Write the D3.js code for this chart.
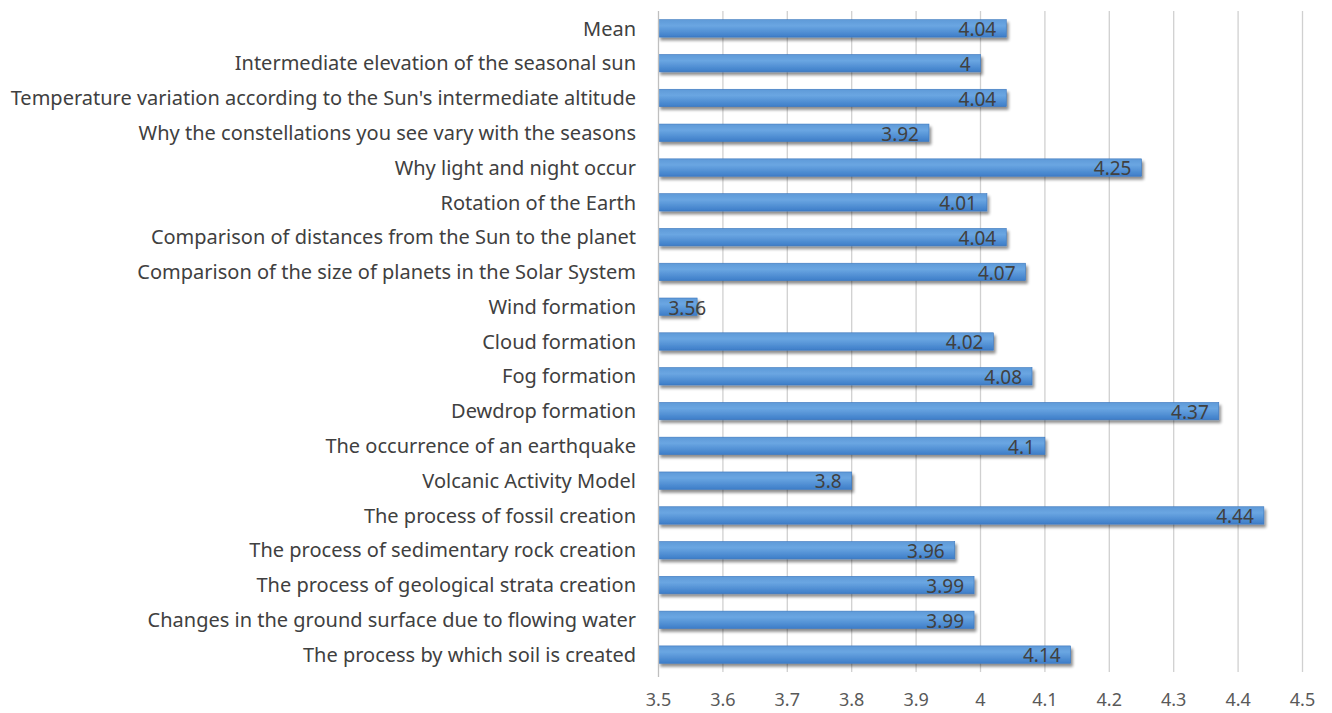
<!DOCTYPE html>
<html>
<head>
<meta charset="utf-8">
<script src="https://cdn.jsdelivr.net/npm/d3@7"></script>
<style>
  body { margin: 0; background: #fff; }
  text { font-family: "Noto Sans", "Open Sans", sans-serif; }
</style>
</head>
<body>
<svg width="1332" height="713"></svg>
<script>
// categories, top to bottom
const categories = [
    "Mean",
    "Intermediate elevation of the seasonal sun",
    "Temperature variation according to the Sun's intermediate altitude",
    "Why the constellations you see vary with the seasons",
    "Why light and night occur",
    "Rotation of the Earth",
    "Comparison of distances from the Sun to the planet",
    "Comparison of the size of planets in the Solar System",
    "Wind formation",
    "Cloud formation",
    "Fog formation ",
    "Dewdrop formation",
    "The occurrence of an earthquake",
    "Volcanic Activity Model",
    "The process of fossil creation",
    "The process of sedimentary rock creation",
    "The process of geological strata creation",
    "Changes in the ground surface due to flowing water",
    "The process by which soil is created"
]
const values = [4.04, 4, 4.04, 3.92, 4.25, 4.01, 4.04, 4.07, 3.56, 4.02, 4.08, 4.37, 4.1, 3.8, 4.44, 3.96, 3.99, 3.99, 4.14]
const ticks = [3.5, 3.6, 3.7, 3.8, 3.9, 4.0, 4.1, 4.2, 4.3, 4.4, 4.5]

const svg = d3.select("svg")

const plotLeft = 658.5, plotRight = 1302.5, plotTop = 11, plotBottom = 672

const x = d3.scaleLinear().domain([3.5, 4.5]).range([plotLeft, plotRight])
const y = d3.scaleBand().domain(categories).range([plotTop, plotBottom]).paddingInner(0.5).paddingOuter(0.25)

// bar gradient + shadow
const defs = svg.append("defs")
const grad = defs.append("linearGradient")
    .attr("id", "barGrad")
    .attr("x1", 0).attr("y1", 0).attr("x2", 0).attr("y2", 1)
grad.append("stop").attr("offset", "0%").attr("stop-color", "#5f9ad8")
grad.append("stop").attr("offset", "35%").attr("stop-color", "#6aa6e2")
grad.append("stop").attr("offset", "100%").attr("stop-color", "#3d7dc8")

const shadow = defs.append("filter")
    .attr("id", "shadow")
    .attr("x", "-5%").attr("y", "-30%").attr("width", "115%").attr("height", "190%")
shadow.append("feGaussianBlur").attr("in", "SourceAlpha").attr("stdDeviation", 1.8)
shadow.append("feOffset").attr("dx", 2).attr("dy", 2.5).attr("result", "off")
shadow.append("feComponentTransfer").append("feFuncA").attr("type", "linear").attr("slope", 0.45)
const merge = shadow.append("feMerge")
merge.append("feMergeNode")
merge.append("feMergeNode").attr("in", "SourceGraphic")

// gridlines
svg.append("g")
    .selectAll("line")
    .data(ticks.slice(1))
    .enter().append("line")
    .attr("x1", d => x(d)).attr("x2", d => x(d))
    .attr("y1", plotTop).attr("y2", plotBottom)
    .attr("stroke", "#d0d0d0")
    .attr("stroke-width", 1.3)

// bars
svg.append("g")
    .selectAll("rect")
    .data(values)
    .enter().append("rect")
    .attr("x", x(3.5))
    .attr("y", (d, i) => y(categories[i]))
    .attr("width", d => x(d) - x(3.5))
    .attr("height", y.bandwidth())
    .attr("fill", "url(#barGrad)")
    .attr("stroke", "#3a76bd")
    .attr("stroke-width", 0.6)
    .attr("filter", "url(#shadow)")

// left axis line
svg.append("line")
    .attr("x1", plotLeft).attr("x2", plotLeft)
    .attr("y1", plotTop).attr("y2", plotBottom + 5)
    .attr("stroke", "#bfbfbf")
    .attr("stroke-width", 1.3)

// value labels (inside end, but never starting left of the axis)
svg.append("g")
    .selectAll("text")
    .data(values)
    .enter().append("text")
    .attr("y", (d, i) => y(categories[i]) + y.bandwidth() / 2 + 1)
    .attr("dy", "0.36em")
    .attr("text-anchor", "end")
    .attr("font-size", 19)
    .attr("fill", "#404040")
    .text(d => d)
    .attr("x", function(d) {
        const w = this.getComputedTextLength()
        return Math.max(x(d) - 10, plotLeft + 10 + w)
    })

// category labels
svg.append("g")
    .selectAll("text")
    .data(categories)
    .enter().append("text")
    .attr("x", 636)
    .attr("y", d => y(d) + y.bandwidth() / 2)
    .attr("dy", "0.36em")
    .attr("text-anchor", "end")
    .attr("font-size", 20)
    .attr("fill", "#404040")
    .text(d => d)

// tick labels
svg.append("g")
    .selectAll("text")
    .data(ticks)
    .enter().append("text")
    .attr("x", d => x(d))
    .attr("y", 706)
    .attr("text-anchor", "middle")
    .attr("font-size", 18)
    .attr("fill", "#595959")
    .text(d => d)
</script>
</body>
</html>
